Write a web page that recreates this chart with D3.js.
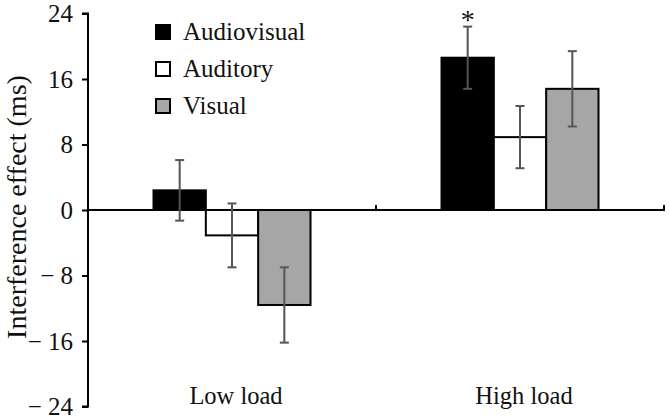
<!DOCTYPE html>
<html><head><meta charset="utf-8">
<script src="https://cdn.jsdelivr.net/npm/d3@7"></script>
<style>body{margin:0;background:#fff}svg{display:block}text{font-family:"Liberation Serif","Times New Roman",serif;fill:#111}</style>
</head><body><svg id="c" width="669" height="418"></svg>
<script>
const categories = ["Low load", "High load"];
const seriesNames = ["Audiovisual", "Auditory", "Visual"];
const audiovisual = [2.4, 18.6];
const auditory = [-3.1, 8.9];
const visual = [-11.6, 14.8];
const audiovisualErr = [3.7, 3.8];
const auditoryErr = [3.9, 3.8];
const visualErr = [4.6, 4.6];
const yTicks = [-24, -16, -8, 0, 8, 16, 24];
const significant = [[1, 0]]; // [category index, series index]

const colors = {"Audiovisual": "#000", "Auditory": "#fff", "Visual": "#a6a6a6"};
const values = [audiovisual, auditory, visual];
const errs = [audiovisualErr, auditoryErr, visualErr];

const svg = d3.select("#c");
const x0 = d3.scaleBand().domain(categories).range([88, 664]).paddingInner(0).paddingOuter(0);
const groupW = 157;
const x1 = d3.scaleBand().domain(seriesNames).range([0, groupW]);
const y = d3.scaleLinear().domain([-24, 24]).range([406.5, 13.5]);
const off = (x0.bandwidth() - groupW) / 2;

const data = [];
categories.forEach((c, i) => seriesNames.forEach((s, j) => data.push({c, s, v: values[j][i], e: errs[j][i], i, j})));

// bars
svg.append("g").selectAll("rect").data(data).join("rect")
  .attr("x", d => x0(d.c) + off + x1(d.s))
  .attr("width", x1.bandwidth())
  .attr("y", d => y(Math.max(0, d.v)))
  .attr("height", d => Math.abs(y(d.v) - y(0)))
  .attr("fill", d => colors[d.s])
  .attr("stroke", "#000").attr("stroke-width", 2);

// zero axis line with category dividers
const zx = svg.append("g").attr("transform", `translate(0,${y(0)})`);
zx.append("line").attr("x1", 88).attr("x2", 664).attr("stroke", "#000").attr("stroke-width", 2);
[categories[1]].forEach(c => zx.append("line").attr("x1", x0(c)).attr("x2", x0(c)).attr("y1", 0).attr("y2", -5).attr("stroke", "#000").attr("stroke-width", 2));
zx.append("line").attr("x1", x0(categories[1]) + x0.bandwidth()).attr("x2", x0(categories[1]) + x0.bandwidth()).attr("y1", 1).attr("y2", -5).attr("stroke", "#000").attr("stroke-width", 2);

// error bars
const eg = svg.append("g").attr("stroke", "#555").attr("stroke-width", 2);
data.forEach(d => {
  const cx = x0(d.c) + off + x1(d.s) + x1.bandwidth() / 2;
  eg.append("line").attr("x1", cx).attr("x2", cx).attr("y1", y(d.v + d.e)).attr("y2", y(d.v - d.e));
  eg.append("line").attr("x1", cx - 4.5).attr("x2", cx + 4.5).attr("y1", y(d.v + d.e)).attr("y2", y(d.v + d.e));
  eg.append("line").attr("x1", cx - 4.5).attr("x2", cx + 4.5).attr("y1", y(d.v - d.e)).attr("y2", y(d.v - d.e));
});

// significance
significant.forEach(([i, j]) => {
  const d = data.find(k => k.i === i && k.j === j);
  const cx = x0(d.c) + off + x1(d.s) + x1.bandwidth() / 2;
  svg.append("text").attr("x", cx).attr("y", y(d.v + d.e) + 2).attr("text-anchor", "middle").attr("font-size", 28).text("*");
});

// y axis
const ya = svg.append("g").attr("transform", "translate(88,0)")
  .call(d3.axisLeft(y).tickValues(yTicks).tickSize(6).tickPadding(9).tickFormat(d => d < 0 ? "\u2212 " + Math.abs(d) : String(d)));
ya.select(".domain").attr("stroke", "#000").attr("stroke-width", 2).attr("d", `M-6,${y(24)}H0V${y(-24)}H-6`);
ya.selectAll(".tick line").attr("stroke", "#000").attr("stroke-width", 2);
ya.selectAll(".tick text").attr("font-size", 25).attr("font-family", "Liberation Serif").attr("fill", "#111");

svg.append("text").attr("transform", `translate(26,${y(0) - 3}) rotate(-90)`).attr("text-anchor", "middle")
  .attr("font-size", 28).text("Interference effect (ms)");

// category labels
svg.append("g").selectAll("text").data(categories).join("text")
  .attr("x", d => x0(d) + x0.bandwidth() / 2 + 4).attr("y", 404)
  .attr("text-anchor", "middle").attr("font-size", 24.5).text(d => d);

// legend
const lg = svg.append("g").selectAll("g").data(seriesNames).join("g")
  .attr("transform", (d, i) => `translate(156,${32 + i * 37})`);
lg.append("rect").attr("x", 0).attr("y", -7).attr("width", 14).attr("height", 14)
  .attr("fill", d => colors[d]).attr("stroke", "#000").attr("stroke-width", 2);
lg.append("text").attr("x", 27).attr("y", 8).attr("font-size", 25).text(d => d);
</script></body></html>
